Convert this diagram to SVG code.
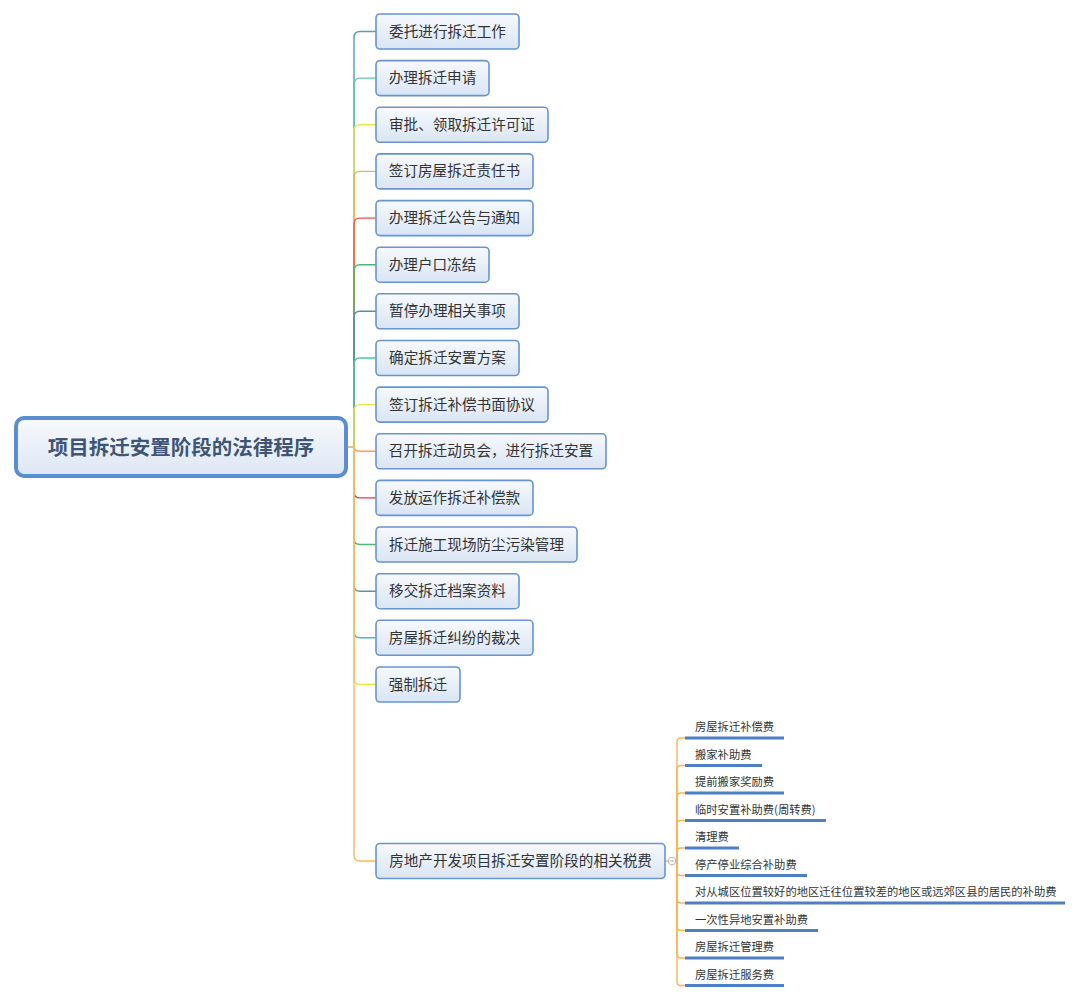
<svg xmlns="http://www.w3.org/2000/svg" width="1080" height="1001" viewBox="0 0 1080 1001">
<defs>
<linearGradient id="gNode" x1="0" y1="0" x2="0" y2="1">
<stop offset="0" stop-color="#f7f9fd"/>
<stop offset="1" stop-color="#d9e5f4"/>
</linearGradient>
<linearGradient id="gRoot" x1="0" y1="0" x2="0" y2="1">
<stop offset="0" stop-color="#f8fafd"/>
<stop offset="1" stop-color="#dce6f3"/>
</linearGradient>
</defs>
<style>
.root rect{fill:url(#gRoot);stroke:#5b8dd2;stroke-width:4}
.root text{font-family:"Noto Sans CJK SC","Noto Sans",sans-serif;font-size:20.5px;font-weight:bold;fill:#3d5678;text-anchor:middle}
.node rect{fill:url(#gNode);stroke:#6894d0;stroke-width:1.6}
.node text{font-family:"Noto Sans CJK SC","Noto Sans",sans-serif;font-size:14.6px;fill:#333;text-anchor:middle}
.leaf text{font-family:"Noto Sans CJK SC","Noto Sans",sans-serif;font-size:11.3px;fill:#333}
.leaf line{stroke:#4d7fc4;stroke-width:3}
.conn path{fill:none;stroke-width:1.4}
.lc path{fill:none;stroke:#f6b655;stroke-width:1.4}
</style>
<rect width="1080" height="1001" fill="#ffffff"/>
<g id="connectors" class="conn">
<path d="M346,447 H354 V37.5 Q354,31.5 360,31.5 H376" stroke="#5a9db2"/>
<path d="M346,447 H354 V84.1 Q354,78.1 360,78.1 H376" stroke="#5cc8b8"/>
<path d="M346,447 H354 V130.8 Q354,124.8 360,124.8 H376" stroke="#f4e04e"/>
<path d="M346,447 H354 V177.4 Q354,171.4 360,171.4 H376" stroke="#f5b04c"/>
<path d="M346,447 H354 V224.1 Q354,218.1 360,218.1 H376" stroke="#e9574c"/>
<path d="M346,447 H354 V270.7 Q354,264.7 360,264.7 H376" stroke="#4cb873"/>
<path d="M346,447 H354 V317.3 Q354,311.3 360,311.3 H376" stroke="#5a8cb2"/>
<path d="M346,447 H354 V364 Q354,358 360,358 H376" stroke="#52c2b4"/>
<path d="M346,447 H354 V410.6 Q354,404.6 360,404.6 H376" stroke="#f2e044"/>
<path d="M346,447 H354 Q354,451.3 360,451.3 H376" stroke="#f5a844"/>
<path d="M346,447 H354 V491.9 Q354,497.9 360,497.9 H376" stroke="#e83552"/>
<path d="M346,447 H354 V538.5 Q354,544.5 360,544.5 H376" stroke="#50b872"/>
<path d="M346,447 H354 V585.2 Q354,591.2 360,591.2 H376" stroke="#6290aa"/>
<path d="M346,447 H354 V631.8 Q354,637.8 360,637.8 H376" stroke="#4cbac2"/>
<path d="M346,447 H354 V678.5 Q354,684.5 360,684.5 H376" stroke="#f2e044"/>
<path d="M346,447 H354 V855 Q354,861 360,861 H376" stroke="#f8ba62"/>
</g>
<g id="leaf-connectors" class="lc">
<path d="M665,861 H668"/>
<path d="M676,861 H677 V742 Q677,738 681,738 H686"/>
<path d="M677,861 V769.5 Q677,765.5 681,765.5 H686"/>
<path d="M677,861 V797 Q677,793 681,793 H686"/>
<path d="M677,861 V824.5 Q677,820.5 681,820.5 H686"/>
<path d="M677,861 V852 Q677,848 681,848 H686"/>
<path d="M677,861 V871.5 Q677,875.5 681,875.5 H686"/>
<path d="M677,861 V899 Q677,903 681,903 H686"/>
<path d="M677,861 V926.5 Q677,930.5 681,930.5 H686"/>
<path d="M677,861 V954 Q677,958 681,958 H686"/>
<path d="M677,861 V981.5 Q677,985.5 681,985.5 H686"/>
</g>
<g id="collapse">
<circle cx="672" cy="861" r="3.8" fill="#ffffff" stroke="#b5b5b5" stroke-width="1"/>
<line x1="670" y1="861" x2="674" y2="861" stroke="#b5b5b5" stroke-width="1"/>
</g>
<g id="root" class="root">
<rect x="16" y="418" width="330" height="58" rx="8"/>
<text x="181" y="455">项目拆迁安置阶段的法律程序</text>
</g>
<g id="n1" class="node"><rect x="376" y="14" width="143" height="35" rx="4"/><text x="447.5" y="36.5">委托进行拆迁工作</text></g>
<g id="n2" class="node"><rect x="376" y="60.6" width="113" height="35" rx="4"/><text x="432.5" y="83.1">办理拆迁申请</text></g>
<g id="n3" class="node"><rect x="376" y="107.3" width="172" height="35" rx="4"/><text x="462" y="129.8">审批、领取拆迁许可证</text></g>
<g id="n4" class="node"><rect x="376" y="153.9" width="157" height="35" rx="4"/><text x="454.5" y="176.4">签订房屋拆迁责任书</text></g>
<g id="n5" class="node"><rect x="376" y="200.6" width="157" height="35" rx="4"/><text x="454.5" y="223.1">办理拆迁公告与通知</text></g>
<g id="n6" class="node"><rect x="376" y="247.2" width="113" height="35" rx="4"/><text x="432.5" y="269.7">办理户口冻结</text></g>
<g id="n7" class="node"><rect x="376" y="293.8" width="143" height="35" rx="4"/><text x="447.5" y="316.3">暂停办理相关事项</text></g>
<g id="n8" class="node"><rect x="376" y="340.5" width="143" height="35" rx="4"/><text x="447.5" y="363">确定拆迁安置方案</text></g>
<g id="n9" class="node"><rect x="376" y="387.1" width="172" height="35" rx="4"/><text x="462" y="409.6">签订拆迁补偿书面协议</text></g>
<g id="n10" class="node"><rect x="376" y="433.8" width="230" height="35" rx="4"/><text x="491" y="456.3">召开拆迁动员会，进行拆迁安置</text></g>
<g id="n11" class="node"><rect x="376" y="480.4" width="157" height="35" rx="4"/><text x="454.5" y="502.9">发放运作拆迁补偿款</text></g>
<g id="n12" class="node"><rect x="376" y="527" width="201" height="35" rx="4"/><text x="476.5" y="549.5">拆迁施工现场防尘污染管理</text></g>
<g id="n13" class="node"><rect x="376" y="573.7" width="143" height="35" rx="4"/><text x="447.5" y="596.2">移交拆迁档案资料</text></g>
<g id="n14" class="node"><rect x="376" y="620.3" width="157" height="35" rx="4"/><text x="454.5" y="642.8">房屋拆迁纠纷的裁决</text></g>
<g id="n15" class="node"><rect x="376" y="667" width="84" height="35" rx="4"/><text x="418" y="689.5">强制拆迁</text></g>
<g id="n16" class="node"><rect x="376" y="843.5" width="289" height="35" rx="4"/><text x="520.5" y="866">房地产开发项目拆迁安置阶段的相关税费</text></g>
<g id="l1" class="leaf"><text x="695" y="731">房屋拆迁补偿费</text><line x1="685" y1="738" x2="784" y2="738"/></g>
<g id="l2" class="leaf"><text x="695" y="758.5">搬家补助费</text><line x1="685" y1="765.5" x2="762" y2="765.5"/></g>
<g id="l3" class="leaf"><text x="695" y="786">提前搬家奖励费</text><line x1="685" y1="793" x2="784" y2="793"/></g>
<g id="l4" class="leaf"><text x="695" y="813.5">临时安置补助费(周转费)</text><line x1="685" y1="820.5" x2="826" y2="820.5"/></g>
<g id="l5" class="leaf"><text x="695" y="841">清理费</text><line x1="685" y1="848" x2="739" y2="848"/></g>
<g id="l6" class="leaf"><text x="695" y="868.5">停产停业综合补助费</text><line x1="685" y1="875.5" x2="807" y2="875.5"/></g>
<g id="l7" class="leaf"><text x="695" y="896">对从城区位置较好的地区迁往位置较差的地区或远郊区县的居民的补助费</text><line x1="685" y1="903" x2="1065" y2="903"/></g>
<g id="l8" class="leaf"><text x="695" y="923.5">一次性异地安置补助费</text><line x1="685" y1="930.5" x2="818" y2="930.5"/></g>
<g id="l9" class="leaf"><text x="695" y="951">房屋拆迁管理费</text><line x1="685" y1="958" x2="784" y2="958"/></g>
<g id="l10" class="leaf"><text x="695" y="978.5">房屋拆迁服务费</text><line x1="685" y1="985.5" x2="784" y2="985.5"/></g>
</svg>
